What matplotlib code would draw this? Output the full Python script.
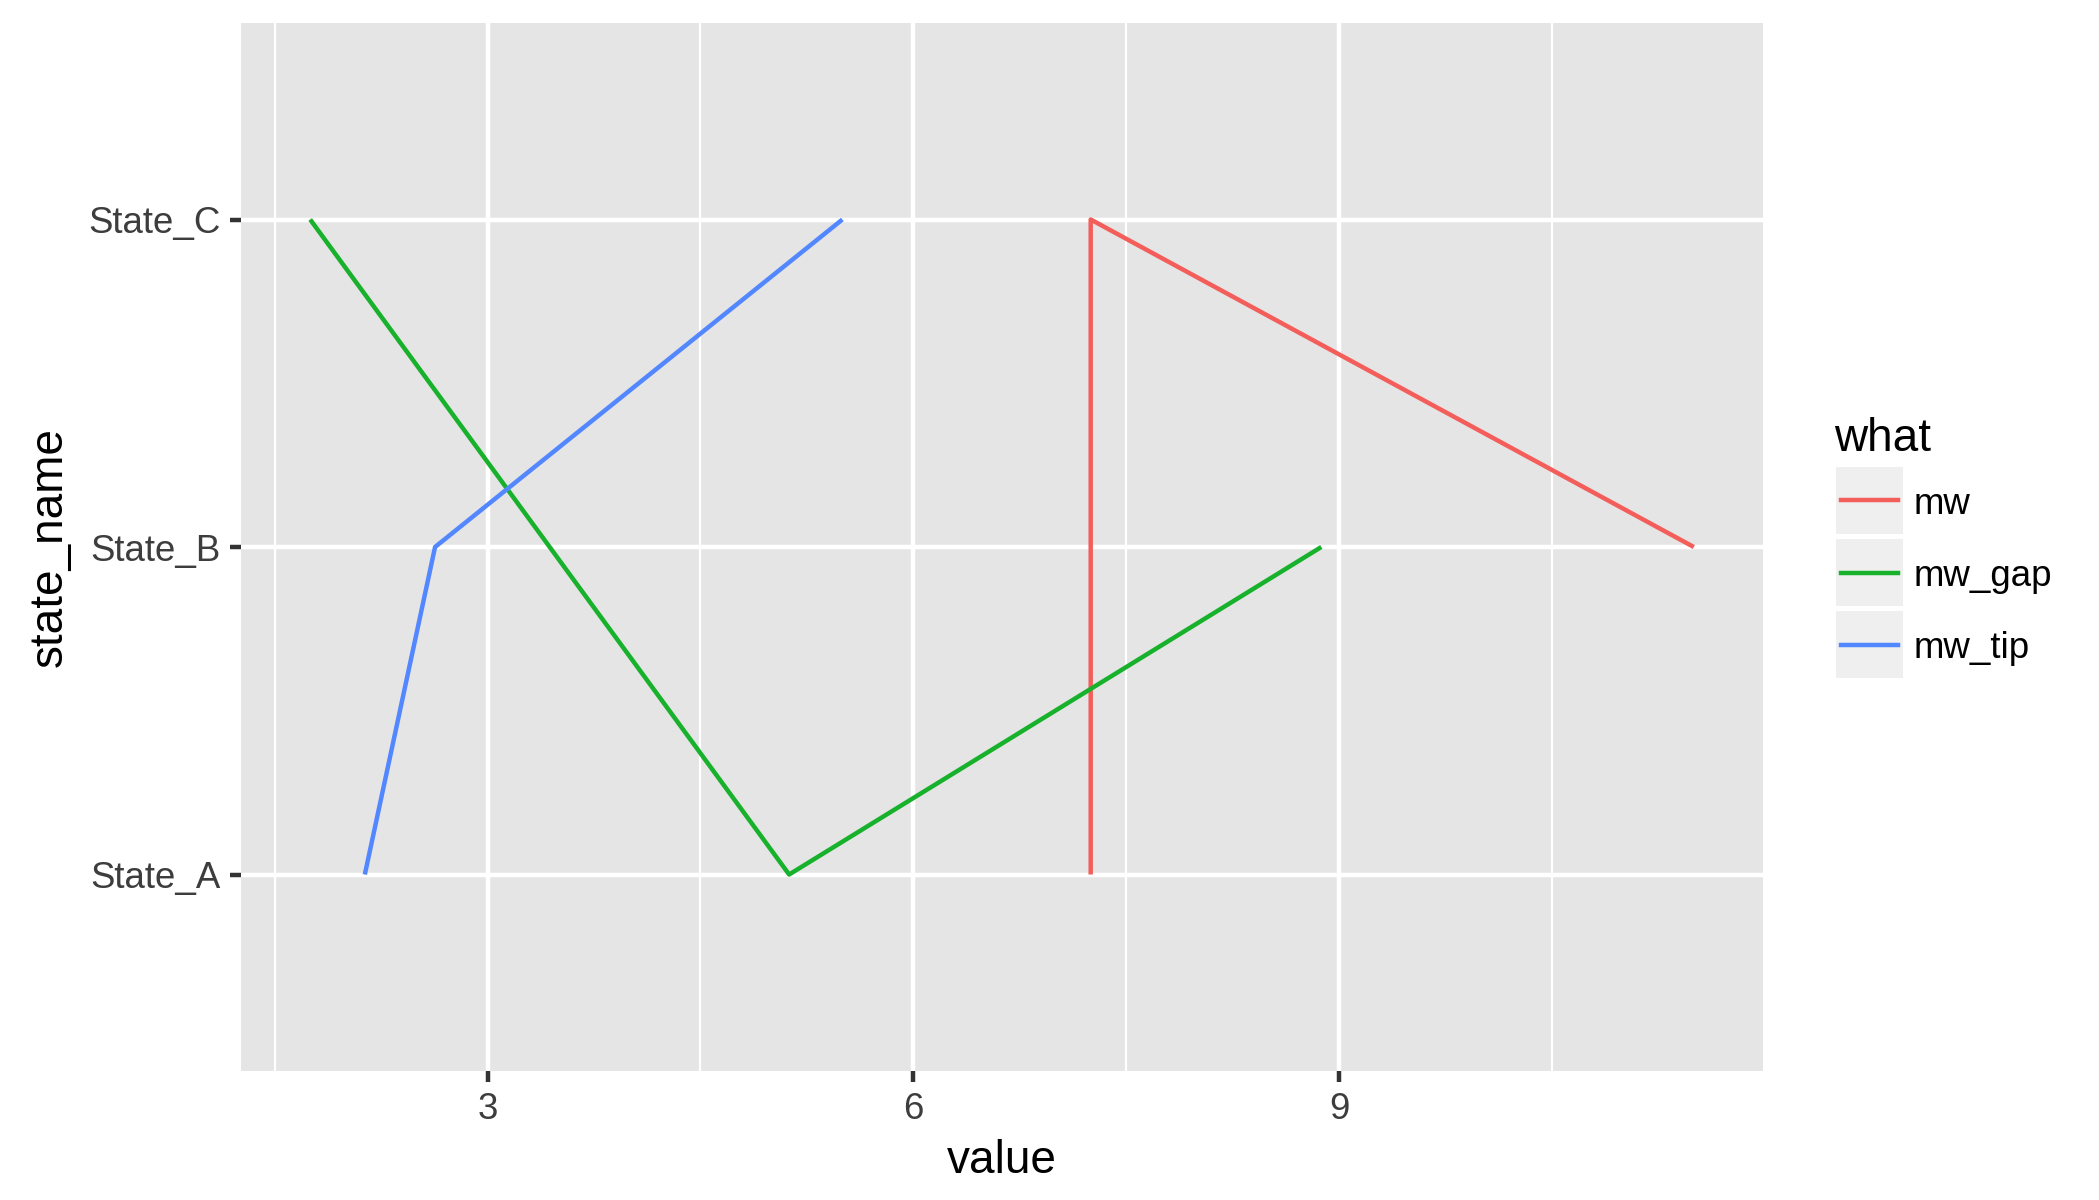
import matplotlib
matplotlib.use("Agg")
import matplotlib.pyplot as plt
from matplotlib.patches import Rectangle
from matplotlib.lines import Line2D

plt.rcParams['font.family'] = ['Liberation Sans', 'DejaVu Sans']

states = ["State_A", "State_B", "State_C"]
series = ["mw", "mw_gap", "mw_tip"]
mw = [7.25, 11.5, 7.25]
mw_gap = [5.125, 8.875, 1.75]
mw_tip = [2.135, 2.63, 5.5]
values = {"mw": mw, "mw_gap": mw_gap, "mw_tip": mw_tip}
colors = {"mw": "#F35E5A", "mw_gap": "#17B12B", "mw_tip": "#5287FF"}
x_ticks = [3, 6, 9]
x_minor = [1.5, 4.5, 7.5, 10.5]

W, H = 2099, 1200
DPI = 300
fig = plt.figure(figsize=(W / DPI, H / DPI), dpi=DPI)
L, R, T, B = 241, 1763, 23, 1071
ax = fig.add_axes([L / W, 1 - B / H, (R - L) / W, (B - T) / H])
ax.set_facecolor("#E5E5E5")
for s in ax.spines.values():
    s.set_visible(False)

lw = 1.07

ypos = {s: i + 1 for i, s in enumerate(states)}
for name in series:
    vals = values[name]
    pts = sorted(zip(vals, [ypos[s] for s in states]), key=lambda p: p[0])
    xs = [p[0] for p in pts]
    ys = [p[1] for p in pts]
    ax.plot(xs, ys, color=colors[name], lw=lw, solid_capstyle='butt', zorder=3)

allx = mw + mw_gap + mw_tip
lo, hi = min(allx), max(allx)
pad = (hi - lo) * 0.05
ax.set_xlim(lo - pad, hi + pad)
ax.set_ylim(0.4, 3.6)

ax.set_xticks(x_ticks)
ax.set_xticks(x_minor, minor=True)
ax.set_yticks([ypos[s] for s in states])
ax.set_yticklabels(states)
ax.grid(True, which='major', color='white', lw=1.07, zorder=1)
ax.grid(True, which='minor', axis='x', color='white', lw=0.53, zorder=1)
ax.set_axisbelow(True)
ax.tick_params(which='major', length=2.75, width=1.07, color='#333333',
               labelsize=8.8, labelcolor='#3D3D3D', pad=2.2)
ax.tick_params(which='minor', length=0)

ax.set_xlabel("value", fontsize=11, color='black', labelpad=3)
ax.set_ylabel("state_name", fontsize=11, color='black', labelpad=4)

# legend
def fx(px):
    return px / W

def fy(py):
    return 1 - py / H

fig.text(fx(1834), fy(439), "what", fontsize=11, ha='left', va='center')
key_x0, key_x1 = 1836, 1903
key_tops = [467, 539, 611]
key_h = 67
for name, top in zip(series, key_tops):
    fig.add_artist(Rectangle((fx(key_x0), fy(top + key_h)), fx(key_x1) - fx(key_x0),
                             fy(top) - fy(top + key_h), transform=fig.transFigure,
                             facecolor='#EFEFEF', edgecolor='none'))
    yc = fy(top + key_h / 2)
    fig.add_artist(Line2D([fx(key_x0 + 5), fx(key_x1 - 5)], [yc, yc],
                          transform=fig.transFigure, color=colors[name], lw=lw))
    fig.text(fx(1914), fy(top + key_h / 2 + 4), name, fontsize=8.8, ha='left', va='center')

fig.savefig("out.png", dpi=DPI, facecolor='white')
